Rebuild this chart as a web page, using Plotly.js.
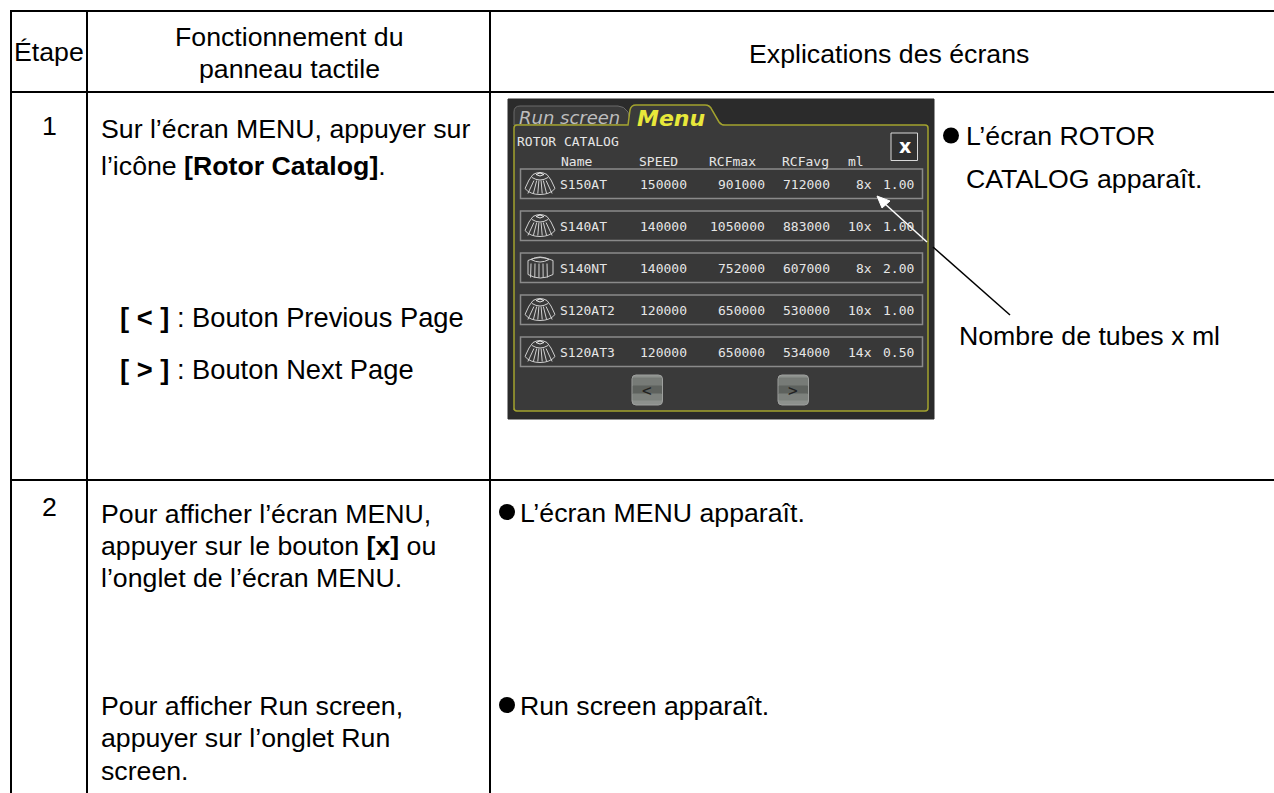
<!DOCTYPE html>
<html><head><meta charset="utf-8">
<script src="https://cdn.plot.ly/plotly-3.0.1.min.js"></script>
<style>html,body{margin:0;padding:0;background:#fff}#c{width:1274px;height:793px}</style>
</head><body><div id="c"></div>
<script>
const SANS='"Liberation Sans", Arial, sans-serif', MONO='"DejaVu Sans Mono", monospace';
const headers=['Étape','Fonctionnement du','panneau tactile','Explications des écrans'];
const stepLabels=['1','2'];
const step1Lines=['Sur l’écran MENU, appuyer sur','l’icône <b>[Rotor Catalog]</b>.'];
const buttonLines=['<b>[ &lt; ]</b> : Bouton Previous Page','<b>[ &gt; ]</b> : Bouton Next Page'];
const step2Lines=['Pour afficher l’écran MENU,','appuyer sur le bouton <b>[x]</b> ou','l’onglet de l’écran MENU.'];
const step3Lines=['Pour afficher Run screen,','appuyer sur l’onglet Run','screen.'];
const explanations=['L’écran ROTOR','CATALOG apparaît.','Nombre de tubes x ml','L’écran MENU apparaît.','Run screen apparaît.'];
const catalogHead=['Name','SPEED','RCFmax','RCFavg','ml'];
const rotorNames=['S150AT','S140AT','S140NT','S120AT2','S120AT3'];
const rotorSpeed=['150000','140000','140000','120000','120000'];
const rotorMax=['901000','1050000','752000','650000','650000'];
const rotorAvg=['712000','883000','607000','530000','534000'];
const rotorTubes=['8x','10x','8x','10x','14x'];
const rotorMl=['1.00','1.00','2.00','1.00','0.50'];

const shapes=[], ann=[];
function line(x0,y0,x1,y1,c,w){shapes.push({type:'line',x0,y0,x1,y1,line:{color:c,width:w},layer:'above'});}
function rect(x0,y0,x1,y1,fill,c,w){shapes.push({type:'rect',x0,y0,x1,y1,fillcolor:fill,line:{color:c||fill,width:w==null?1:w},layer:'above'});}
function path(d,fill,c,w){shapes.push({type:'path',path:d,fillcolor:fill||'rgba(0,0,0,0)',line:{color:c||'rgba(0,0,0,0)',width:w==null?1:w},layer:'above'});}
function txt(x,y,t,size,o){o=o||{};ann.push({x,y,text:t,xref:'x',yref:'y',showarrow:false,xanchor:o.a||'left',yanchor:'middle',borderpad:0,borderwidth:0,
  font:{family:o.f||SANS,size,color:o.c||'#000'}});}
const S=26.7;
function base(x,b,t,o){o=o||{};const s=o.s||S;txt(x,b-0.34*s,t,s,o);}

// Table grid (no right border in the reference)
[11,87,490].forEach(x=>line(x,10,x,793,'#000',2));
line(10,11,1274,11,'#000',2);line(10,92,1274,92,'#000',2);line(10,480,1274,480,'#000',2);

// Screen
rect(508,99,934,419,'#2b2b2b');
path('M514,125 L514,112 Q514,106 520,106 L618,106 Q624,106 628,112 L631,125 Z','#3a3a3a','#6a6a6a',1);
path('M514,410 L514,128 Q514,125 517,125 L628,125 L630,110 Q631,105 636,105 L705,105 Q710,105 712,110 L719,122 Q721,125 725,125 L925,125 Q928,125 928,128 L928,408 Q928,411 925,411 L517,411 Q514,411 514,408 Z','#3a3a3a','#a3a32e',1.5);
txt(519,117,'<i>Run screen</i>',18,{f:'"DejaVu Sans"',c:'#bdbdbd'});
txt(637,118,'<b><i>Menu</i></b>',22,{f:'"DejaVu Sans"',c:'#e8e83a'});
txt(517,141,'ROTOR CATALOG',13,{f:MONO,c:'#e6e6e6'});
const headX=[561,639,709,782,848];
catalogHead.forEach((h,i)=>txt(headX[i],161,h,13,{f:MONO,c:'#e6e6e6'}));
// close button
rect(891,133,917.5,160.5,'#303030','#d8d8d8',1);
txt(904.5,146,'<b>x</b>',19,{a:'center',f:'"DejaVu Sans"',c:'#fff'});
const rowTop=[169,211,253,295,337];
rowTop.forEach((y,i)=>{
  rect(520.5,y,922.5,y+29.5,'#383838','#8a8a8a',1.5);
  const cx=540, cy=y+14.5;
  if(rotorNames[i]=='S140NT'){
    path(`M528,${cy-7} Q540,${cy-13} 553,${cy-7} L553,${cy+7} Q540,${cy+14} 528,${cy+7} Z`,'#3a3a3a','#d0d0d0',1);
    [-9,-5,-1,3,7].forEach(d=>line(cx+d,cy-4,cx+d*1.05,cy+10,'#d0d0d0',1));
    path(`M531,${cy-8} Q540,${cy-3} 549,${cy-8}`,null,'#d0d0d0',1);
    path(`M531,${cy-8} Q540,${cy-13} 549,${cy-8}`,null,'#d0d0d0',1);
  }else{
    path(`M533,${cy-9} Q540,${cy-13} 547,${cy-9} Q551,${cy-5} 555,${cy+5} Q550,${cy+11} 540,${cy+11} Q530,${cy+11} 525,${cy+5} Q529,${cy-5} 533,${cy-9} Z`,'#3a3a3a','#d0d0d0',1);
    path(`M532,${cy-6} Q540,${cy-1} 548,${cy-6}`,null,'#d0d0d0',1);
    path(`M536,${cy-9} Q540,${cy-12} 544,${cy-9} Q540,${cy-6} 536,${cy-9}`,null,'#e8e8e8',1);
    [-11,-6,-2,2,6,11].forEach(d=>line(cx+d*0.55,cy-3,cx+d*1.1,cy+10,'#d0d0d0',1));
  }
  const my=cy+0.5;
  txt(560,my,rotorNames[i],13,{f:MONO,c:'#e6e6e6'});
  txt(687,my,rotorSpeed[i],13,{a:'right',f:MONO,c:'#e6e6e6'});
  txt(765,my,rotorMax[i],13,{a:'right',f:MONO,c:'#e6e6e6'});
  txt(830,my,rotorAvg[i],13,{a:'right',f:MONO,c:'#e6e6e6'});
  txt(872,my,rotorTubes[i],13,{a:'right',f:MONO,c:'#e6e6e6'});
  txt(914,my,rotorMl[i],13,{a:'right',f:MONO,c:'#e6e6e6'});
});
// nav buttons
[632,778].forEach((bx,i)=>{
  const r=4, x1=bx+30.5;
  path(`M${bx+r},375 L${x1-r},375 Q${x1},375 ${x1},${375+r} L${x1},${405-r} Q${x1},405 ${x1-r},405 L${bx+r},405 Q${bx},405 ${bx},${405-r} L${bx},${375+r} Q${bx},375 ${bx+r},375 Z`,'#8d918d','#9ea09e',1);
  rect(bx+1,378,x1-1,386,'#777b77');
  rect(bx+1,386,x1-1,394,'#5e625e');
  rect(bx+1,394,x1-1,400,'#7d817d');
  txt(bx+15,390,i==0?'&lt;':'&gt;',16,{a:'center',f:MONO,c:'#222'});
});
// leader
line(933,247,1010,315,'#000',1.5);
line(927,242,884,203,'#fff',1.5);
path('M877,196 L890,201 L882,208 Z','#fff','#fff',1);

// Table text
base(49,61.5,headers[0],{a:'center'});
base(289,46,headers[1],{a:'center'});
base(289,78,headers[2],{a:'center'});
base(889,63,headers[3],{a:'center'});
stepLabels.forEach((t,i)=>base(49,[135,516][i],t,{a:'center'}));
step1Lines.forEach((t,i)=>base(101,[138.5,175][i],t));
buttonLines.forEach((t,i)=>base(120,[327,379][i],t,{s:27.3}));
step2Lines.forEach((t,i)=>base(101,[523,555,587][i],t));
step3Lines.forEach((t,i)=>base(101,[715,747,780][i],t));
base(965.5,145,explanations[0]);
base(965.5,188,explanations[1]);
base(959,345,explanations[2]);
base(520,522,explanations[3]);
base(520,715,explanations[4]);

const bulletX=[951,507,507], bulletY=[135.5,512,705];
const trace={type:'scatter',mode:'markers',x:bulletX,y:bulletY,marker:{color:'#000',size:16},hoverinfo:'skip',showlegend:false};
Plotly.newPlot('c',[trace],{
  width:1274,height:793,margin:{l:0,r:0,t:0,b:0},paper_bgcolor:'#fff',plot_bgcolor:'#fff',showlegend:false,
  xaxis:{range:[0,1274],visible:false,fixedrange:true},
  yaxis:{range:[793,0],visible:false,fixedrange:true},
  shapes,annotations:ann
},{staticPlot:true,displayModeBar:false});
</script></body></html>
